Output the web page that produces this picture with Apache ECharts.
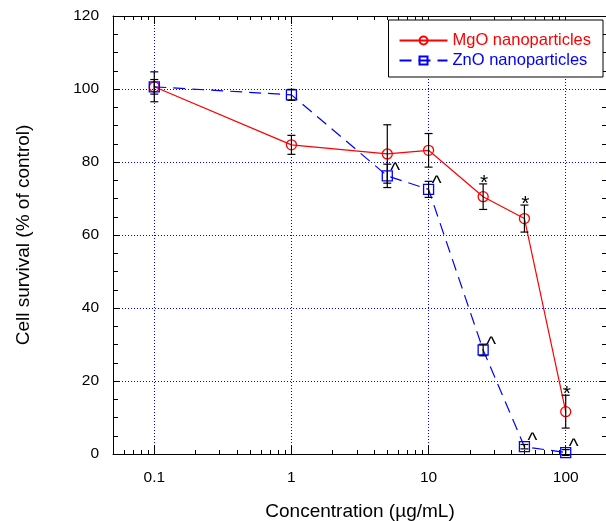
<!DOCTYPE html>
<html>
<head>
<meta charset="utf-8">
<script src="https://cdn.jsdelivr.net/npm/echarts@6/dist/echarts.min.js"></script>
<style>
  html, body { margin: 0; padding: 0; background: #fff; }
  #main { width: 606px; height: 521px; }
</style>
</head>
<body>
<div id="main"></div>
<script>
const concentrations = [0.1, 1, 5, 10, 25, 50, 100];
const mgoMean = [100.6, 84.7, 82.2, 83.2, 70.5, 64.5, 11.6];
const mgoErr = [4.1, 2.6, 8.0, 4.6, 3.5, 3.7, 4.5];
const znoMean = [100.6, 98.4, 76.2, 72.5, 28.5, 2.0, 0.4];
const znoErr = [2.0, 1.5, 3.2, 2.2, 1.6, 0.6, 0.8];
const mgoMarks = ["", "", "", "", "*", "*", "*"];
const znoMarks = ["", "", "^", "^", "^", "^", "^"];
const xMajorTicks = [0.1, 1, 10, 100];
const xTickLabels = ["0.1", "1", "10", "100"];
const xMinorTicks = [0.06, 0.07, 0.08, 0.09, 0.2, 0.3, 0.4, 0.5, 0.6, 0.7, 0.8, 0.9,
  2, 3, 4, 5, 6, 7, 8, 9, 20, 30, 40, 50, 60, 70, 80, 90];

const FONT = "Liberation Sans";
const RED = "#ff0000";
const BLUE = "#0000ff";

function errData(mean, err) {
  return concentrations.map((c, i) => [c, mean[i] - err[i], mean[i] + err[i]]);
}

function renderErrorBar(params, api) {
  const x = api.value(0);
  const top = api.coord([x, api.value(2)]);
  const bot = api.coord([x, api.value(1)]);
  const w = 4;
  const style = { stroke: "#000", lineWidth: 1.2 };
  return {
    type: "group",
    children: [
      { type: "line", shape: { x1: top[0], y1: top[1], x2: bot[0], y2: bot[1] }, style },
      { type: "line", shape: { x1: top[0] - w, y1: top[1], x2: top[0] + w, y2: top[1] }, style },
      { type: "line", shape: { x1: bot[0] - w, y1: bot[1], x2: bot[0] + w, y2: bot[1] }, style }
    ]
  };
}

// text marks placed relative to a data point
const marksFor = { mgoMarks: mgoMarks, znoMarks: znoMarks };
function markRenderer(dx, dy, size) {
  return function (params, api) {
    const p = api.coord([api.value(0), api.value(1)]);
    const txt = marksFor[params.seriesName][params.dataIndex];
    return {
      type: "text",
      x: p[0] + dx,
      y: p[1] + dy,
      style: {
        text: txt,
        fill: "#000",
        font: size + "px " + FONT,
        align: "center",
        verticalAlign: "middle"
      }
    };
  };
}

function xAxisCfg(pos, ticks, len, main) {
  return {
    type: "log",
    min: 0.05,
    max: 200,
    position: pos,
    axisLine: { show: main, lineStyle: { color: "#000", width: 1 } },
    axisTick: { inside: true, length: len, customValues: ticks, lineStyle: { color: "#000", width: 1 } },
    axisLabel: {
      show: main && pos === "bottom",
      customValues: xMajorTicks,
      margin: 16,
      color: "#000",
      fontFamily: FONT,
      fontSize: 15.5,
      formatter: function (v) {
        const i = xMajorTicks.findIndex(t => Math.abs(Math.log10(t) - Math.log10(v)) < 0.01);
        return i >= 0 ? xTickLabels[i] : "";
      }
    },
    splitLine: {
      show: main && pos === "bottom",
      lineStyle: { color: BLUE, type: [1, 2], width: 1 }
    },
    name: main && pos === "bottom" ? "Concentration (\u00b5g/mL)" : "",
    nameLocation: "middle",
    nameGap: 48,
    nameTextStyle: { color: "#000", fontFamily: FONT, fontSize: 19, verticalAlign: "top" }
  };
}

function yAxisCfg(pos, main) {
  return {
    type: "value",
    min: 0,
    max: 120,
    interval: 20,
    position: pos,
    axisLine: { show: true, lineStyle: { color: "#000", width: 1 } },
    axisTick: { inside: true, length: 7, lineStyle: { color: "#000" } },
    minorTick: { show: true, splitNumber: 4, length: 5, lineStyle: { color: "#000" } },
    axisLabel: { show: main, margin: 14, color: "#000", fontFamily: FONT, fontSize: 15.5 },
    splitLine: { show: main, lineStyle: { color: BLUE, type: [1, 2], width: 1 } },
    name: main ? "Cell survival (% of control)" : "",
    nameLocation: "middle",
    nameGap: 80,
    nameTextStyle: { color: "#000", fontFamily: FONT, fontSize: 19 }
  };
}

const chart = echarts.init(document.getElementById("main"), null, { renderer: "canvas" });

chart.setOption({
  animation: false,
  backgroundColor: "#fff",
  grid: { left: 113, top: 16, right: -1, bottom: 67, containLabel: false, outerBoundsMode: "none" },
  legend: {
    orient: "vertical",
    right: 3,
    top: 20,
    padding: [12, 12, 8, 10],
    itemGap: 3,
    itemWidth: 48,
    itemHeight: 10,
    backgroundColor: "#fff",
    borderColor: "#000",
    borderWidth: 1,
    borderRadius: 0,
    textStyle: { fontFamily: FONT, fontSize: 16.5 },
    data: [
      { name: "MgO nanoparticles", textStyle: { color: RED } },
      { name: "ZnO nanoparticles", textStyle: { color: BLUE } }
    ]
  },
  xAxis: [
    xAxisCfg("bottom", xMajorTicks, 8, true),
    xAxisCfg("bottom", xMinorTicks, 4, false),
    xAxisCfg("top", xMajorTicks, 8, true),
    xAxisCfg("top", xMinorTicks, 4, false)
  ],
  yAxis: [yAxisCfg("left", true), yAxisCfg("right", false)],
  series: [
    {
      name: "MgO nanoparticles",
      type: "line",
      data: concentrations.map((c, i) => [c, mgoMean[i]]),
      symbol: "circle",
      symbolSize: 10,
      lineStyle: { color: RED, width: 1.2 },
      itemStyle: { color: "transparent", borderColor: RED, borderWidth: 1.3 },
      z: 3
    },
    {
      name: "ZnO nanoparticles",
      type: "line",
      data: concentrations.map((c, i) => [c, znoMean[i]]),
      symbol: "rect",
      symbolSize: 10,
      lineStyle: { color: BLUE, width: 1.2, type: [12, 7] },
      itemStyle: { color: "transparent", borderColor: BLUE, borderWidth: 1.3 },
      z: 3
    },
    {
      type: "custom",
      renderItem: renderErrorBar,
      data: errData(mgoMean, mgoErr),
      encode: { x: 0, y: [1, 2] },
      silent: true,
      z: 4
    },
    {
      type: "custom",
      renderItem: renderErrorBar,
      data: errData(znoMean, znoErr),
      encode: { x: 0, y: [1, 2] },
      silent: true,
      z: 4
    },
    {
      name: "mgoMarks",
      type: "custom",
      renderItem: markRenderer(1, -1, 21),
      data: concentrations.map((c, i) => [c, mgoMean[i] + mgoErr[i]]),
      encode: { x: 0, y: 1 },
      silent: true,
      z: 5
    },
    {
      name: "znoMarks",
      type: "custom",
      renderItem: markRenderer(8, -5, 21),
      data: concentrations.map((c, i) => [c, znoMean[i]]),
      encode: { x: 0, y: 1 },
      silent: true,
      z: 5
    }
  ]
});
</script>
</body>
</html>
